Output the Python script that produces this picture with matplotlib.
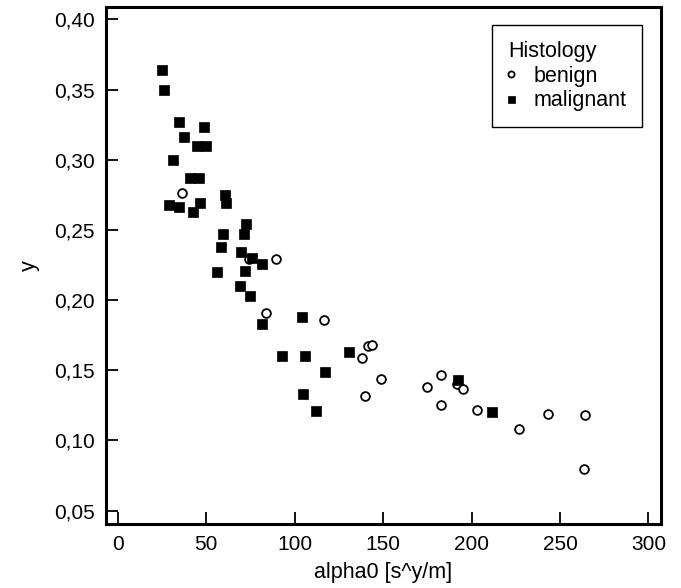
import matplotlib
matplotlib.use("Agg")
import matplotlib.pyplot as plt
from matplotlib.ticker import FixedLocator, FixedFormatter

plt.rcParams['font.family'] = ['Liberation Sans', 'DejaVu Sans']

# benign cases
benign_x = [36.2, 74.2, 89.4, 83.7, 116.4, 141.3, 143.6, 137.9, 149.1, 139.8,
            175.0, 182.8, 191.8, 195.0, 182.9, 202.9, 227.0, 243.4, 264.0, 263.6]
benign_y = [0.276, 0.229, 0.229, 0.191, 0.186, 0.167, 0.168, 0.159, 0.144, 0.132,
            0.138, 0.147, 0.140, 0.137, 0.125, 0.122, 0.108, 0.119, 0.118, 0.080]

# malignant cases
malignant_x = [25.0, 26.3, 34.5, 48.6, 37.3, 44.7, 49.7, 31.1, 40.7, 45.8,
               60.8, 61.3, 29.2, 34.7, 46.7, 42.4, 72.4, 59.4, 71.6, 58.4,
               69.5, 75.9, 81.6, 56.0, 72.0, 69.1, 74.8, 81.6, 104.2, 93.0,
               105.7, 130.8, 117.4, 104.8, 111.9, 192.4, 211.6]
malignant_y = [0.364, 0.350, 0.327, 0.323, 0.316, 0.310, 0.310, 0.300, 0.287, 0.287,
               0.275, 0.269, 0.268, 0.266, 0.269, 0.263, 0.254, 0.247, 0.247, 0.238,
               0.234, 0.230, 0.226, 0.220, 0.221, 0.210, 0.203, 0.183, 0.188, 0.160,
               0.160, 0.163, 0.149, 0.133, 0.121, 0.143, 0.120]

x_ticks = [0, 50, 100, 150, 200, 250, 300]
y_ticks = [0.05, 0.10, 0.15, 0.20, 0.25, 0.30, 0.35, 0.40]
y_ticklabels = ['0,05', '0,10', '0,15', '0,20', '0,25', '0,30', '0,35', '0,40']

fig = plt.figure(figsize=(6.81, 5.88), dpi=100)
ax = fig.add_axes([0.155, 0.1088, 0.8156, 0.8798])

ax.plot(benign_x, benign_y, linestyle='none', marker='o', markersize=6.3,
        markerfacecolor='white', markeredgecolor='black', markeredgewidth=1.3,
        label='benign')
ax.plot(malignant_x, malignant_y, linestyle='none', marker='s', markersize=7.2,
        markerfacecolor='black', markeredgecolor='black', markeredgewidth=0.5,
        label='malignant')

ax.set_xlim(-6.9, 307.1)
ax.set_ylim(0.0405, 0.409)
ax.xaxis.set_major_locator(FixedLocator(x_ticks))
ax.yaxis.set_major_locator(FixedLocator(y_ticks))
ax.yaxis.set_major_formatter(FixedFormatter(y_ticklabels))

for s in ax.spines.values():
    s.set_linewidth(2.2)
ax.tick_params(direction='in', length=8.6, width=1.3, labelsize=15,
               top=False, right=False)
ax.tick_params(axis='x', pad=8)
ax.tick_params(axis='y', pad=8)

ax.set_xlabel('alpha0 [s^y/m]', fontsize=15.5, labelpad=6)
ax.set_ylabel('y', fontsize=15.5, labelpad=10)

leg = ax.legend(title='Histology', loc='upper right', bbox_to_anchor=(0.9663, 0.9652),
                borderaxespad=0, fontsize=15.5, title_fontsize=15.5, markerscale=0.7,
                handlelength=0.2, handletextpad=0.95, borderpad=0.75, labelspacing=0.17,
                fancybox=False, framealpha=1, edgecolor='black', alignment='left')
leg.get_frame().set_linewidth(1.0)

fig.savefig('out.png', dpi=100)
